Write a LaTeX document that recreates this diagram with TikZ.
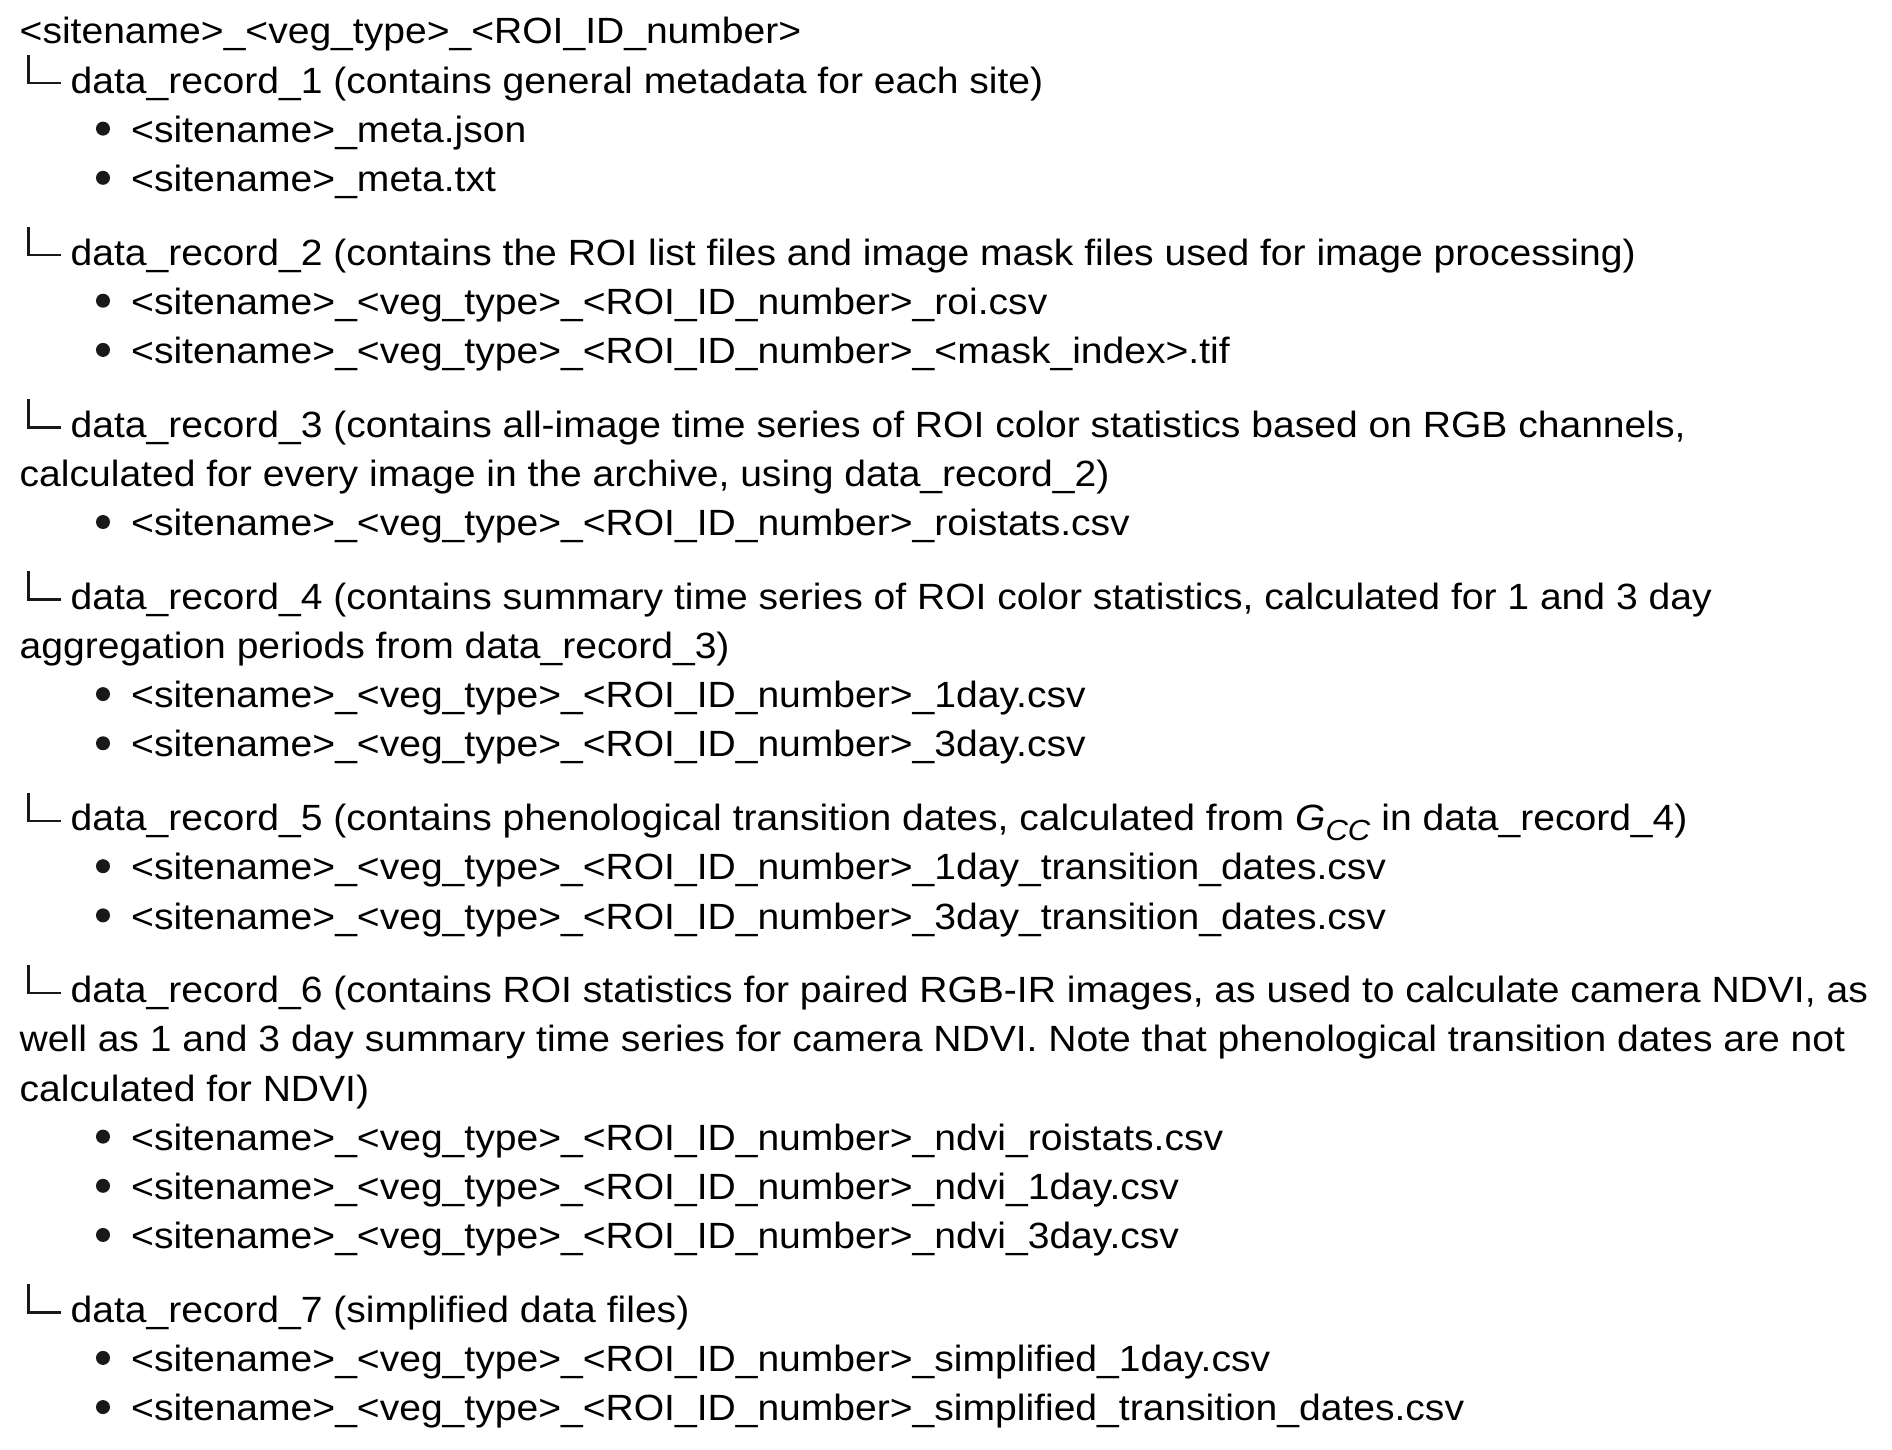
\documentclass[tikz,border=0pt]{standalone}
\usepackage{fontspec}
\setmainfont{Liberation Sans}[FakeStretch=1.07]
\newcommand{\roistem}{<sitename>\_<veg\_type>\_<ROI\_ID\_number>}
\tikzset{
  txt/.style={anchor=base west,inner sep=0pt,font=\fontsize{36.5}{44}\selectfont},
  rec/.style={txt},
  filebox/.style={txt},
  bul/.style={fill=black!90},
  tree/.style={line width=2.3pt,black!90}
}
\begin{document}
\begin{tikzpicture}[x=1pt,y=-1pt]
  \useasboundingbox (0,0) rectangle (1892,1450);
  % baseline of row k sits at 44 + k*49.17
  \node[txt] (title) at (19.5,44) {\roistem};

  %% the records
  \node[rec] (rec1) at (70.5,{44+1*49.17}) {data\_record\_1 (contains general metadata for each site)};
  \node[rec] (rec2) at (70.5,{44+4.5*49.17}) {data\_record\_2 (contains the ROI list files and image mask files used for image processing)};
  \node[rec] (rec3) at (70.5,{44+8*49.17}) {data\_record\_3 (contains all-image time series of ROI color statistics based on RGB channels,};
  \node[txt] (rec3b) at (19.5,{44+9*49.17}) {calculated for every image in the archive, using data\_record\_2)};
  \node[rec] (rec4) at (70.5,{44+11.5*49.17}) {data\_record\_4 (contains summary time series of ROI color statistics, calculated for 1 and 3 day};
  \node[txt] (rec4b) at (19.5,{44+12.5*49.17}) {aggregation periods from data\_record\_3)};
  \node[rec] (rec5) at (70.5,{44+16*49.17}) {data\_record\_5 (contains phenological transition dates, calculated from \textit{G}\raisebox{-10pt}{\fontsize{29}{29}\selectfont\textit{CC}} in data\_record\_4)};
  \node[rec] (rec6) at (70.5,{44+19.5*49.17}) {data\_record\_6 (contains ROI statistics for paired RGB-IR images, as used to calculate camera NDVI, as};
  \node[txt] (rec6b) at (19.5,{44+20.5*49.17}) {well as 1 and 3 day summary time series for camera NDVI. Note that phenological transition dates are not};
  \node[txt] (rec6c) at (19.5,{44+21.5*49.17}) {calculated for NDVI)};
  \node[rec] (rec7) at (70.5,{44+26*49.17}) {data\_record\_7 (simplified data files)};

  % the tree marks in front of each record
  \foreach \r in {1,...,7}
    \draw[tree] (rec\r.base west) ++(-42,-38) |- ++(32,28);

  %% the files, one bullet each
  \foreach \k/\f [count=\i] in {
      2/<sitename>\_meta.json,
      3/<sitename>\_meta.txt,
      5.5/\roistem\_roi.csv,
      6.5/\roistem\_<mask\_index>.tif,
      10/\roistem\_roistats.csv,
      13.5/\roistem\_1day.csv,
      14.5/\roistem\_3day.csv,
      17/\roistem\_1day\_transition\_dates.csv,
      18/\roistem\_3day\_transition\_dates.csv,
      22.5/\roistem\_ndvi\_roistats.csv,
      23.5/\roistem\_ndvi\_1day.csv,
      24.5/\roistem\_ndvi\_3day.csv,
      27/\roistem\_simplified\_1day.csv,
      28/\roistem\_simplified\_transition\_dates.csv}
  {
    \node[filebox] (f\i) at (131,{44+\k*49.17}) {\f};
    \fill[bul] (f\i.base west) ++(-28,-13.7) circle (7);
  }
\end{tikzpicture}
\end{document}
